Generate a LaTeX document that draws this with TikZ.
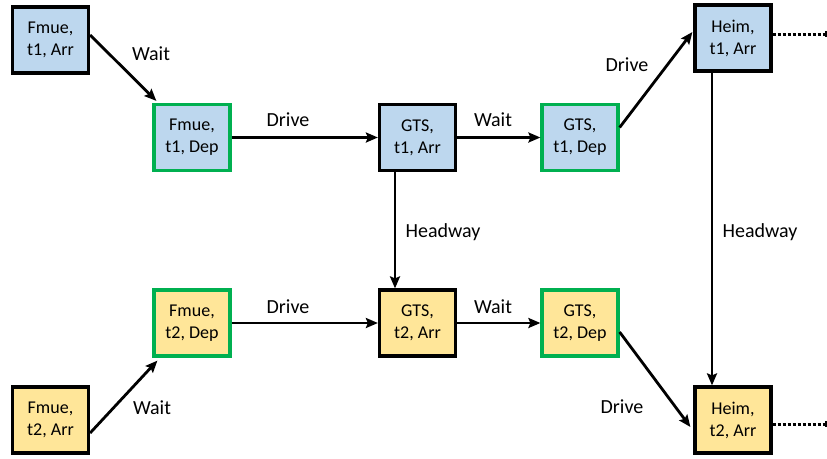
\documentclass[tikz,border=0pt]{standalone}
\usepackage{fontspec}
\setmainfont{Carlito}
\usetikzlibrary{arrows.meta,calc}

\definecolor{boxblue}{HTML}{BDD7EE}
\definecolor{boxyellow}{HTML}{FFE699}
\definecolor{depgreen}{HTML}{00B050}

\tikzset{
  event/.style={draw=black, line width=3.2pt, minimum width=76pt, minimum height=66pt,
    inner sep=0pt, align=center, font=\fontsize{18}{22}\selectfont},
  arrive/.style={event, draw=black},
  depart/.style={event, draw=depgreen},
  tone/.style={fill=boxblue},
  ttwo/.style={fill=boxyellow},
  flow/.style={line width=2.8pt, -{Stealth[length=12pt,width=10pt,inset=2pt]}},
  cont/.style={line width=3pt, dotted},
  lbl/.style={font=\fontsize{20}{24}\selectfont, inner sep=0pt},
}

\begin{document}
\begin{tikzpicture}[x=1pt,y=-1pt]
\useasboundingbox (0,0) rectangle (827,458);

% train t1
\node[arrive,tone] (f1a) at (50.5,40)  {Fmue,\\t1, Arr};
\node[depart,tone] (f1d) at (192,137.5) {Fmue,\\t1, Dep};
\node[arrive,tone] (g1a) at (417.5,137.5) {GTS,\\t1, Arr};
\node[depart,tone] (g1d) at (580,137.5) {GTS,\\t1, Dep};
\node[arrive,tone] (h1a) at (733,38) {Heim,\\t1, Arr};

% train t2
\node[arrive,ttwo] (f2a) at (50.5,420) {Fmue,\\t2, Arr};
\node[depart,ttwo] (f2d) at (192,323) {Fmue,\\t2, Dep};
\node[arrive,ttwo] (g2a) at (417.5,323) {GTS,\\t2, Arr};
\node[depart,ttwo] (g2d) at (580,323) {GTS,\\t2, Dep};
\node[arrive,ttwo] (h2a) at (733,420) {Heim,\\t2, Arr};

% continuation ends at the right margin
\coordinate (h1x) at (826,34);
\coordinate (h2x) at (826,424);

% t1 activities
\draw[flow] ($(f1a.east)+(0,-5)$) -- ($(f1d.north west)+(4,-2)$);
\draw[flow] (f1d.east) -- (g1a.west);
\draw[flow] (g1a.east) -- (g1d.west);
\draw[flow] ($(g1d.east)+(0,-10)$) -- ($(h1a.west)+(-1,-6)$);
\draw[cont] ($(h1a.east)+(0,-4)$) -- (h1x);
\draw[line width=1.5pt] ($(h1x)+(0,-3)$) -- ($(h1x)+(0,3)$);

% t2 activities
\draw[flow] ($(f2a.east)+(0,13)$) -- ($(f2d.south west)+(5,3)$);
\draw[flow] (f2d.east) -- (g2a.west);
\draw[flow] (g2a.east) -- (g2d.west);
\draw[flow] ($(g2d.east)+(0,9)$) -- ($(h2a.west)+(-3,7)$);
\draw[cont] ($(h2a.east)+(0,4)$) -- (h2x);
\draw[line width=1.5pt] ($(h2x)+(0,-3)$) -- ($(h2x)+(0,3)$);

% headway between trains
\draw[flow] ([xshift=-22.5pt]g1a.south) -- ([xshift=-22.5pt]g2a.north);
\draw[flow] ([xshift=-21pt]h1a.south) -- ([xshift=-21pt]h2a.north);

% activity labels
\node[lbl] (w1) at (151,54) {Wait};
\node[lbl] (d1) at (288,120) {Drive};
\node[lbl] (w2) at (493,120) {Wait};
\node[lbl] (d2) at (627,65) {Drive};
\node[lbl] (hw1) at (443,232) {Headway};
\node[lbl] (hw2) at (760,232) {Headway};
\node[lbl] (d3) at (288,307) {Drive};
\node[lbl] (w3) at (493,307) {Wait};
\node[lbl] (w4) at (152,408) {Wait};
\node[lbl] (d4) at (622,407) {Drive};
\end{tikzpicture}
\end{document}
